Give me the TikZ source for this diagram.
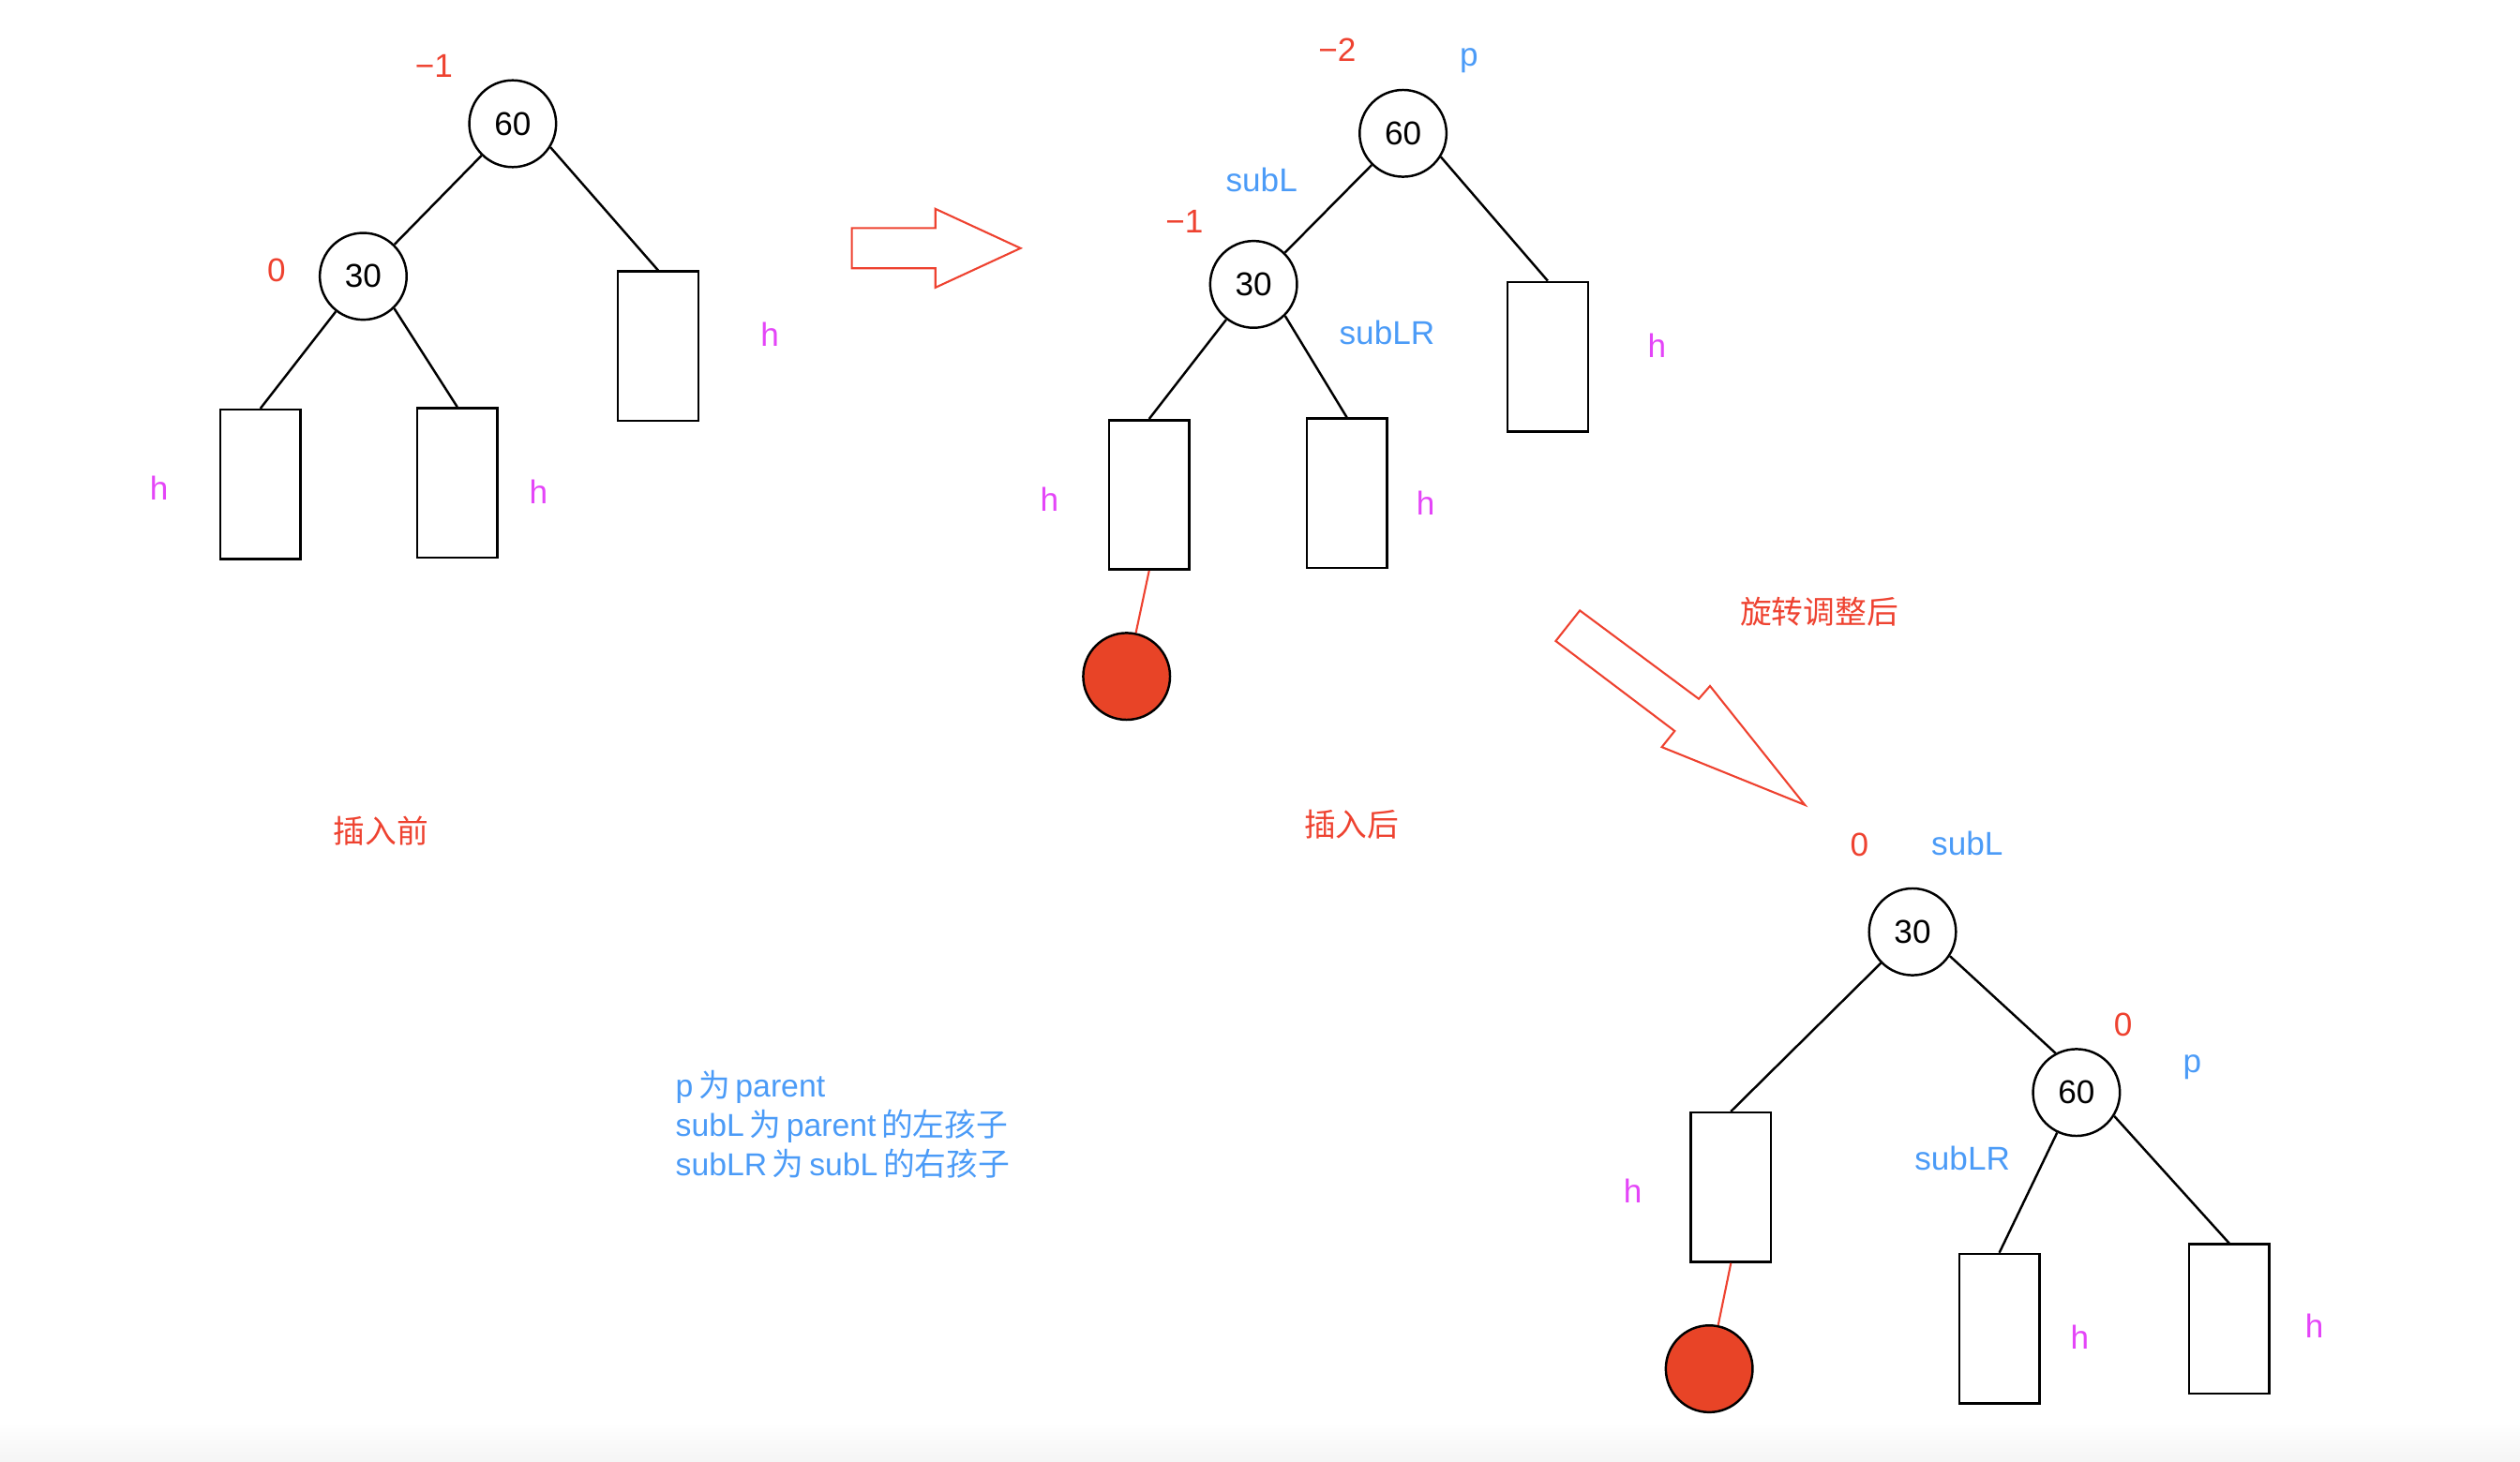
\documentclass[tikz,border=0pt]{standalone}
\usepackage{fontspec}
\setmainfont{Liberation Sans}
\newfontfamily\cjk{Noto Sans CJK SC}
\usepackage{tikz}
\usetikzlibrary{calc}

\definecolor{balred}{HTML}{EE4230}
\definecolor{tagblue}{HTML}{4B9BF7}
\definecolor{hpink}{HTML}{E445F8}
\definecolor{newred}{HTML}{E84427}

\tikzset{
  keynode/.style={circle, draw, line width=0.7pt, minimum size=9.26mm, inner sep=0pt, font=\fontsize{10}{12}\selectfont},
  subtree/.style={draw, line width=0.7pt, minimum width=8.57mm, minimum height=15.94mm, inner sep=0pt},
  newnode/.style={circle, draw, line width=0.7pt, fill=newred, minimum size=9.26mm, inner sep=0pt},
  edge/.style={line width=0.7pt},
  bal/.style={text=balred, font=\fontsize{10}{12}\selectfont, inner sep=0pt},
  tag/.style={text=tagblue, font=\fontsize{10}{12}\selectfont, inner sep=0pt},
  hlab/.style={text=hpink, font=\fontsize{10}{12}\selectfont, inner sep=0pt},
  caption/.style={text=balred, font=\cjk\fontsize{9.6}{12}\selectfont, inner sep=0pt},
  bigarrow/.style={draw=balred, line width=0.6pt, line join=miter}
}

\begin{document}
\begin{tikzpicture}[x=0.1714mm, y=-0.1714mm]
\useasboundingbox (0,0) rectangle (1568,910);
\shade[top color=white, bottom color=black!4] (0,885) rectangle (1568,910);

% before insertion
\node[keynode] (a60) at (319,77) {60};
\node[keynode] (a30) at (226,172) {30};
\node[subtree] (aR) at (409.5,215.5) {};
\node[subtree] (aLL) at (162,301.5) {};
\node[subtree] (aLR) at (284.5,300.5) {};
\draw[edge] (a60) -- (a30);
\draw[edge] (a60.-32) -- (aR.north);
\draw[edge] (a30) -- (aLL.north);
\draw[edge] (a30.-46) -- (aLR.north);
\node[bal] (abf60) at (270,41) {−1};
\node[bal] (abf30) at (172,168) {0};
\node[caption] (acap) at (237,517) {插入前};

% after insertion
\node[keynode] (b60) at (873,83) {60};
\node[keynode] (b30) at (780,177) {30};
\node[subtree] (bR) at (963,222) {};
\node[subtree] (bLL) at (715,308) {};
\node[subtree] (bLR) at (838,307) {};
\node[newnode] (bnew) at (701,421) {};
\draw[edge] (b60) -- (b30);
\draw[edge] (b60.-32) -- (bR.north);
\draw[edge] (b30) -- (bLL.north);
\draw[edge] (b30.-45) -- (bLR.north);
\draw[balred, line width=0.6pt] (bLL.south) -- (bnew);
\node[bal] (bbf60) at (832,31) {−2};
\node[bal] (bbf30) at (737,138) {−1};
\node[tag] (bp) at (914,38) {p};
\node[tag] (bsubL) at (785,112) {subL};
\node[tag] (bsubLR) at (863,207) {subLR};
\node[caption] (bcap) at (841,513) {插入后};

% after rotation
\node[keynode] (c30) at (1190,580) {30};
\node[keynode] (c60) at (1292,680) {60};
\node[subtree] (cL) at (1077,739) {};
\node[subtree] (cM) at (1244,827) {};
\node[subtree] (cR) at (1387,821) {};
\node[newnode] (cnew) at (1063.5,852) {};
\draw[edge] (c30.-33) -- (c60.118);
\draw[edge] (c30) -- (cL.north);
\draw[edge] (c60) -- (cM.north);
\draw[edge] (c60.-32) -- (cR.north);
\draw[balred, line width=0.6pt] (cL.south) -- (cnew);
\node[bal] (cbf30) at (1157,526) {0};
\node[bal] (cbf60) at (1321,638) {0};
\node[tag] (csubL) at (1224,525) {subL};
\node[tag] (cp) at (1364,664) {p};
\node[tag] (csubLR) at (1221,721) {subLR};
\node[caption] (ccap) at (1132,381) {旋转调整后};

% subtree heights
\foreach \x/\y [count=\i] in {99/304, 335/306, 479/208, 653/311, 887/313, 1031/215, 1016/741, 1294/832, 1440/825} {
  \node[hlab] (h\i) at (\x,\y) {h};
}

% block arrows
\draw[bigarrow] (530,142) -- (582,142) -- (582,130) -- (635,154.5) -- (582,179) -- (582,167) -- (530,167) -- cycle;
\draw[bigarrow] (983,380) -- (1057,435) -- (1064,427) -- (1123,501) -- (1034,465) -- (1042,455) -- (968,399) -- cycle;

% legend
\node[text=tagblue, anchor=west, align=left, inner sep=0pt, font=\fontsize{9.6}{11.9}\selectfont] (legend) at (420,700)
  {p\,{\cjk 为}\,parent\\ subL\,{\cjk 为}\,parent\,{\cjk 的左孩子}\\ subLR\,{\cjk 为}\,subL\,{\cjk 的右孩子}};
\end{tikzpicture}
\end{document}
